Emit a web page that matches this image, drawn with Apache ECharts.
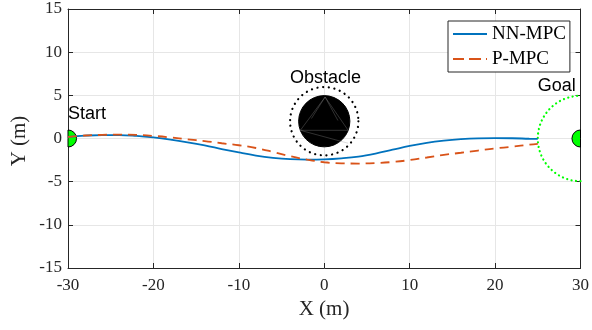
<!DOCTYPE html>
<html>
<head>
<meta charset="utf-8">
<script src="https://cdn.jsdelivr.net/npm/echarts@6/dist/echarts.min.js"></script>
<style>
html,body{margin:0;padding:0;background:#fff;}
#chart{width:592px;height:330px;}
</style>
</head>
<body>
<div id="chart"></div>
<script>
// ---- data ----
const xPos = [-30,-28,-26,-24,-22,-20,-18,-16,-14,-12,-10,-8,-6,-4,-2,0,2,4,6,8,10,12,14,16,18,20,22,24,25];
const nnMpcY = [0.2,0.33,0.4,0.4,0.3,0.12,-0.13,-0.44,-0.8,-1.22,-1.62,-1.98,-2.24,-2.4,-2.45,-2.42,-2.3,-2.1,-1.75,-1.3,-0.85,-0.5,-0.25,-0.08,0.02,0.05,0.03,-0.03,-0.05];
const pMpcY = [0.2,0.35,0.42,0.45,0.42,0.3,0.12,-0.1,-0.3,-0.55,-0.78,-1.1,-1.55,-2.05,-2.45,-2.75,-2.88,-2.9,-2.85,-2.72,-2.5,-2.2,-1.9,-1.65,-1.4,-1.15,-0.95,-0.72,-0.62];
const seriesNames = ['NN-MPC', 'P-MPC'];
const xTicks = [-30,-20,-10,0,10,20,30];
const yTicks = [-15,-10,-5,0,5,10,15];
const obstacleCenter = [0, 2];
const obstacleRadius = 3;
const safetyRadius = 4;
const startPoint = [-30, 0];
const goalPoint = [30, 0];
const markerRadius = 1;
const goalRadius = 5;
const meshPts = [[0.1,4.8],[-2.8,0.95],[2.8,0.95],[2.8,-0.55],[-1.5,4.4],[1.6,4.4]];
const annotations = [[-30, 2.87, 'Start', 'left'], [0.15, 6.97, 'Obstacle', 'center'], [25, 6.06, 'Goal', 'left']];

const nnData = xPos.map((x, i) => [x, nnMpcY[i]]);
const pData = xPos.map((x, i) => [x, pMpcY[i]]);

const axisColor = '#262626';
const serif = '"Liberation Serif", "DejaVu Serif", serif';
const sans = '"Liberation Sans", Arial, sans-serif';

const chart = echarts.init(document.getElementById('chart'), null, {renderer: 'canvas'});

function baseX(pos, showLabel) {
  return {
    type: 'value', position: pos, min: xTicks[0], max: xTicks[xTicks.length-1], interval: 10,
    axisLine: {show: true, onZero: false, lineStyle: {color: axisColor, width: 1}},
    axisTick: {show: true, inside: true, length: 5, lineStyle: {color: axisColor}},
    axisLabel: {show: showLabel, color: axisColor, fontFamily: serif, fontSize: 17, margin: 9},
    splitLine: {show: showLabel, lineStyle: {color: '#e6e6e6', width: 1}}
  };
}
function baseY(pos, showLabel) {
  return {
    type: 'value', position: pos, min: yTicks[0], max: yTicks[yTicks.length-1], interval: 5,
    axisLine: {show: true, onZero: false, lineStyle: {color: axisColor, width: 1}},
    axisTick: {show: true, inside: true, length: 5, lineStyle: {color: axisColor}},
    axisLabel: {show: showLabel, color: axisColor, fontFamily: serif, fontSize: 17, margin: 6},
    splitLine: {show: showLabel, lineStyle: {color: '#e6e6e6', width: 1}}
  };
}

const shapeData = [[obstacleCenter[0], obstacleCenter[1], 0], [obstacleCenter[0], obstacleCenter[1], 1],
                   [startPoint[0], startPoint[1], 2], [goalPoint[0], goalPoint[1], 3], [goalPoint[0], goalPoint[1], 4]];

function renderShape(params, api) {
  const kind = api.value(2);
  const c = api.coord([api.value(0), api.value(1)]);
  const px = (r) => api.size([r, 0])[0];
  if (kind === 0) {
    const r = px(obstacleRadius);
    const m = meshPts.map(p => api.coord(p));
    const ls = {stroke: 'rgba(150,150,150,0.55)', lineWidth: 0.6, fill: null};
    return {type: 'group', children: [
      {type: 'circle', shape: {cx: c[0], cy: c[1], r: r}, style: {fill: '#000', stroke: '#000', lineWidth: 1}},
      {type: 'polygon', shape: {points: [m[0], m[1], m[2]]}, style: ls},
      {type: 'line', shape: {x1: m[1][0], y1: m[1][1], x2: m[3][0], y2: m[3][1]}, style: ls},
      {type: 'line', shape: {x1: m[0][0], y1: m[0][1], x2: m[4][0], y2: m[4][1] + 18}, style: ls},
      {type: 'line', shape: {x1: m[0][0], y1: m[0][1], x2: m[5][0], y2: m[5][1] + 20}, style: ls}
    ]};
  }
  if (kind === 1) {
    const r = px(safetyRadius);
    return {type: 'circle', shape: {cx: c[0], cy: c[1], r: r},
      style: {fill: null, stroke: '#000', lineWidth: 2.2, lineDash: [0.1, 5.6], lineCap: 'round'}};
  }
  if (kind === 2) {
    const r = px(markerRadius);
    return {type: 'sector', shape: {cx: c[0], cy: c[1], r0: 0, r: r, startAngle: -Math.PI/2, endAngle: Math.PI/2, clockwise: true},
      style: {fill: '#00ff00', stroke: '#000', lineWidth: 1}};
  }
  if (kind === 3) {
    const r = px(markerRadius);
    return {type: 'sector', shape: {cx: c[0], cy: c[1], r0: 0, r: r, startAngle: Math.PI/2, endAngle: Math.PI*1.5, clockwise: true},
      style: {fill: '#00ff00', stroke: '#000', lineWidth: 1}};
  }
  const r = px(goalRadius);
  return {type: 'arc', shape: {cx: c[0], cy: c[1], r: r, startAngle: Math.PI/2, endAngle: Math.PI*1.5, clockwise: true},
    style: {fill: null, stroke: '#00ff00', lineWidth: 2.2, lineDash: [0.1, 4.4], lineCap: 'round'}};
}

function renderText(params, api) {
  const c = api.coord([api.value(0), api.value(1)]);
  const a = annotations[params.dataIndex];
  return {type: 'text', x: c[0], y: c[1],
    style: {text: a[2], fill: '#000', font: '18px ' + sans, align: a[3], verticalAlign: 'middle'}};
}

const solidIcon = 'path://M0,0H34V2H0Z';
const dashIcon = 'path://M0,0H11V2H0Z M16,0H28V2H16Z M33,0H34V2H33Z';

const option = {
  animation: false,
  backgroundColor: '#fff',
  grid: {left: 68, right: 8, top: 9, bottom: 62, containLabel: false},
  xAxis: [baseX('bottom', true), baseX('top', false)],
  yAxis: [baseY('left', true), baseY('right', false)],
  legend: {
    data: [{name: seriesNames[0], icon: solidIcon}, {name: seriesNames[1], icon: dashIcon}],
    orient: 'vertical',
    left: 448, top: 21,
    padding: [3, 4, 3, 5],
    itemWidth: 34, itemHeight: 2, itemGap: 5,
    borderColor: axisColor, borderWidth: 1, borderRadius: 0,
    backgroundColor: '#fff',
    textStyle: {fontFamily: serif, fontSize: 19, color: '#000', lineHeight: 20}
  },
  graphic: [
    {type: 'text', x: 324, y: 309, style: {text: 'X (m)', font: '21px ' + serif, fill: axisColor, align: 'center', verticalAlign: 'middle'}, silent: true},
    {type: 'text', rotation: Math.PI/2, x: 19, y: 141, style: {text: 'Y (m)', font: '21px ' + serif, fill: axisColor, align: 'center', verticalAlign: 'middle'}, silent: true}
  ],
  series: [
    {type: 'custom', name: 'shapes', renderItem: renderShape, data: shapeData, z: 3, silent: true,
     encode: {x: 0, y: 1}},
    {name: seriesNames[0], type: 'line', data: nnData, smooth: 0.4, showSymbol: false, symbol: 'none',
     lineStyle: {color: '#0072BD', width: 1.8}, itemStyle: {color: '#0072BD'}, z: 4},
    {name: seriesNames[1], type: 'line', data: pData, smooth: 0.4, showSymbol: false, symbol: 'none',
     lineStyle: {color: '#D95319', width: 1.8, type: [9, 6]}, itemStyle: {color: '#D95319'}, z: 4},
    {type: 'custom', name: 'labels', renderItem: renderText, data: annotations.map(a => [a[0], a[1]]), z: 5, silent: true,
     encode: {x: 0, y: 1}}
  ]
};
chart.setOption(option);
</script>
</body>
</html>
